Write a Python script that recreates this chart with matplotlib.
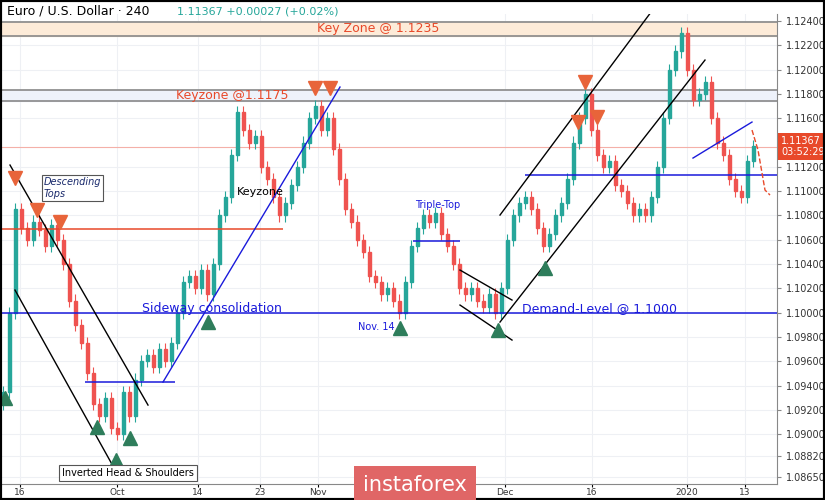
import matplotlib.pyplot as plt
from matplotlib.patches import Rectangle

# 4h closes (one candle every 6 px)
closes = [1.0935, 1.1000, 1.1085, 1.1070, 1.1060, 1.1075, 1.1068, 1.1055, 1.1072, 1.1060,
          1.1040, 1.1010, 1.0990, 1.0975, 1.0950, 1.0925, 1.0915, 1.0930, 1.0905, 1.0900,
          1.0935, 1.0915, 1.0945, 1.0960, 1.0965, 1.0955, 1.0970, 1.0960, 1.0975, 1.1000,
          1.1025, 1.1030, 1.1020, 1.1035, 1.1015, 1.1040, 1.1080, 1.1095, 1.1130, 1.1165,
          1.1150, 1.1140, 1.1145, 1.1120, 1.1110, 1.1095, 1.1080, 1.1090, 1.1105, 1.1120,
          1.1140, 1.1160, 1.1170, 1.1150, 1.1160, 1.1135, 1.1110, 1.1085, 1.1075, 1.1060,
          1.1050, 1.1030, 1.1025, 1.1015, 1.1020, 1.1010, 1.1000, 1.1025, 1.1055, 1.1070,
          1.1080, 1.1075, 1.1082, 1.1065, 1.1055, 1.1040, 1.1020, 1.1015, 1.1020, 1.1010,
          1.1005, 1.1015, 1.1000, 1.1020, 1.1060, 1.1080, 1.1090, 1.1095, 1.1085, 1.1070,
          1.1055, 1.1065, 1.1080, 1.1090, 1.1110, 1.1140, 1.1160, 1.1180, 1.1150, 1.1130,
          1.1120, 1.1125, 1.1105, 1.1100, 1.1090, 1.1080, 1.1085, 1.1080, 1.1095, 1.1120,
          1.1160, 1.1200, 1.1215, 1.1230, 1.1200, 1.1175, 1.1180, 1.1190, 1.1160, 1.1140,
          1.1130, 1.1110, 1.1100, 1.1095, 1.1125, 1.1137]
first_open = 1.0925

yticks = [1.124, 1.122, 1.120, 1.118, 1.116, 1.112, 1.110, 1.108, 1.106, 1.104,
          1.102, 1.100, 1.098, 1.096, 1.094, 1.092, 1.090, 1.0882, 1.0865]
xtick_pos = [20, 117, 198, 260, 318, 505, 592, 687, 745]
xtick_lab = ['16', 'Oct', '14', '23', 'Nov', 'Dec', '16', '2020', '13']

UP = '#26a69a'
DN = '#ef5350'
RED = '#e8492a'
BLUE = '#1a1adb'

fig = plt.figure(figsize=(8.25, 5), dpi=100)
ax = fig.add_axes([0, 16 / 500, 777 / 825, 470 / 500])
ax.set_xlim(0, 777)
ax.set_ylim(1.08590, 1.12458)

for x in xtick_pos:
    ax.axvline(x, color='#eef0f4', lw=0.8, zorder=0)
for y in yticks:
    ax.axhline(y, color='#eef0f4', lw=0.8, zorder=0)

# zones
ax.axhspan(1.1228, 1.1239, color='#fdebd8', zorder=1)
ax.axhline(1.1239, color='#888', lw=1.2)
ax.axhline(1.1228, color='#888', lw=1.2)
ax.axhspan(1.11742, 1.11832, color='#eef2fb', zorder=1)
ax.axhline(1.11832, color='#888', lw=1.2)
ax.axhline(1.11742, color='#888', lw=1.2)

# candles
prev = first_open
for i, c in enumerate(closes):
    x = 3 + 6 * i
    o = prev
    col = UP if c >= o else DN
    ax.vlines(x, min(o, c) - 0.0005, max(o, c) + 0.0005, color=col, lw=0.8, zorder=3)
    ax.add_patch(Rectangle((x - 1.5, min(o, c)), 3, max(abs(c - o), 0.00005), color=col, zorder=3))
    prev = c

# horizontal levels
ax.hlines(1.10688, 0, 283, color=RED, lw=1.1, zorder=4)
ax.axhline(1.1000, color=BLUE, lw=1.1, zorder=4)
ax.hlines(1.11133, 525, 777, color=BLUE, lw=1.1, zorder=4)
ax.hlines(1.0943, 85, 175, color=BLUE, lw=1.1, zorder=4)
ax.hlines(1.1059, 413, 460, color=BLUE, lw=1.1, zorder=4)
ax.axhline(1.11367, color='#f4b0a8', lw=0.8, zorder=2)


def py(ypix):
    return 1.124 - (ypix - 21) * 0.0000823


def seg(x0, y0, x1, y1, col='k', **kw):
    ax.plot([x0, x1], [py(y0), py(y1)], color=col, lw=1, zorder=5, **kw)


seg(10, 165, 148, 405)
seg(15, 290, 118, 475)
seg(500, 215, 660, 0)
seg(500, 322, 705, 60)
seg(460, 270, 512, 300)
seg(460, 305, 512, 340)
seg(163, 382, 340, 87, BLUE)
seg(693, 158, 752, 122, BLUE)
ax.plot([752, 758, 765, 770], [py(130), py(150), py(190), py(195)], color=RED, ls='--', lw=1, zorder=5)

# arrows
for x, y in [(15, 178), (37, 210), (60, 222), (315, 88), (330, 88), (578, 122), (585, 82), (597, 117)]:
    ax.plot(x, py(y), marker='v', color='#e8643a', ms=10, zorder=6)
for x, y in [(5, 398), (97, 427), (116, 460), (130, 438), (208, 322), (400, 328), (498, 330), (545, 268)]:
    ax.plot(x, py(y), marker='^', color='#2e7d5b', ms=10, zorder=6)

# texts
ax.text(378, py(28), 'Key Zone @ 1.1235', color=RED, fontsize=9, ha='center', va='center', zorder=7)
ax.text(232, py(95), 'Keyzone @1.1175', color=RED, fontsize=9, ha='center', va='center', zorder=7)
ax.text(44, py(188), 'Descending\nTops', color='#1a2a6c', fontsize=7, style='italic', va='center', zorder=7,
        bbox=dict(boxstyle='square,pad=0.2', fc='white', ec='#555', lw=0.8))
ax.text(237, py(192), 'Keyzone', color='k', fontsize=8, va='center', zorder=7)
ax.text(438, py(205), 'Triple-Top', color=BLUE, fontsize=7, ha='center', va='center', zorder=7)
ax.text(142, py(308), 'Sideway consolidation', color=BLUE, fontsize=9, va='center', zorder=7)
ax.text(358, py(327), 'Nov. 14', color=BLUE, fontsize=7, va='center', zorder=7)
ax.text(522, py(308), 'Demand-Level @ 1.1000', color=BLUE, fontsize=9, va='center', zorder=7)
ax.text(62, py(473), 'Inverted Head & Shoulders', color='k', fontsize=7, va='center', zorder=7,
        bbox=dict(boxstyle='square,pad=0.3', fc='white', ec='#555', lw=0.8))

# axes styling
ax.set_xticks(xtick_pos)
ax.set_xticklabels(xtick_lab, fontsize=6.5, color='#333')
ax.tick_params(axis='x', length=2, pad=1)
ax.yaxis.tick_right()
ax.set_yticks(yticks)
ax.set_yticklabels(['%.5f' % v for v in yticks], fontsize=7, color='#333')
ax.tick_params(axis='y', length=3, color='#888')
for s in ['top', 'left']:
    ax.spines[s].set_visible(False)
ax.spines['right'].set_color('#888')
ax.spines['bottom'].set_color('#888')

# header / labels
fig.text(0.008, 0.978, 'Euro / U.S. Dollar · 240', fontsize=9, va='center')
fig.text(0.215, 0.978, '1.11367 +0.00027 (+0.02%)', fontsize=8, color=UP, va='center')
ax.text(1.005, 1.11367, '1.11367\n03:52:29', transform=ax.get_yaxis_transform(), fontsize=7,
        color='white', va='center', ha='left', bbox=dict(boxstyle='square,pad=0.25', fc=RED, ec='none'))
fig.text(415 / 825, 0.03, 'instaforex', fontsize=15, color='white', ha='center', va='center',
         bbox=dict(boxstyle='square,pad=0.45', fc='#e06666', ec='none'))
fig.patches.append(Rectangle((0, 0), 1, 1, transform=fig.transFigure, fill=False, ec='k', lw=3))

fig.savefig('out.png', dpi=100)
